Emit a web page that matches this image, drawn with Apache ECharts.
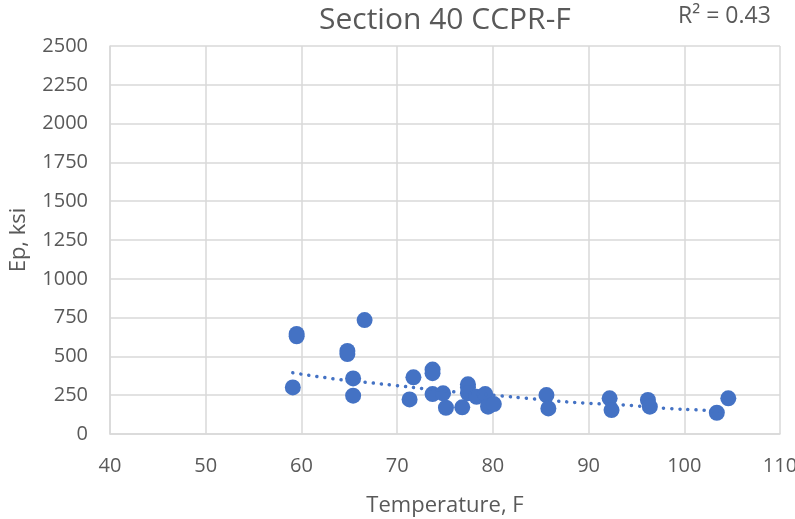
<!DOCTYPE html>
<html>
  <head>
    <meta charset="UTF-8">
    <script src="https://cdn.jsdelivr.net/npm/echarts@6/dist/echarts.min.js"></script>
    <title>Section 40 CCPR-F</title>
  </head>
  <body style="margin:0;">
    <div id="main" style="width: 795px;height:519px;"></div>
    <script type="text/javascript">
      // values
      var temps = [59.1, 59.5, 59.5, 64.8, 64.8, 65.4, 65.4, 66.6, 71.3, 71.7,
                   73.7, 73.7, 73.7, 74.8, 75.1, 76.8, 77.4, 77.4, 77.4, 78.3,
                   79.2, 79.5, 80.1, 85.6, 85.8, 92.2, 92.4, 96.2, 96.4, 103.4, 104.6];
      var ep = [300, 645, 630, 535, 515, 358, 247, 734, 223, 365,
                415, 392, 257, 262, 169, 172, 320, 300, 262, 240,
                257, 176, 193, 251, 165, 230, 154, 219, 176, 137, 230];
      // dotted trendline, points
      var trendT = [59.1, 63.6, 67.2, 69.8, 72.5, 75.9, 80.4, 84.1, 86.7, 90.2, 93.7, 98.2, 101.8, 104.5];
      var trendEp = [394, 354, 330, 313, 294, 272, 248, 227, 212, 197, 187, 165, 154, 144];
      var xTicks = [40, 110, 10];
      var yTicks = [0, 2500, 250];
      var r2Text = 'R\u00b2 = 0.43';

      var points = temps.map(function (t, i) { return [t, ep[i]]; });
      var trend = trendT.map(function (t, i) { return [t, trendEp[i]]; });

      var font = '"Open Sans", sans-serif';
      var grey = '#595959';
      var gridLine = { show: true, lineStyle: { color: '#d9d9d9', width: 1.5 } };

      var myChart = echarts.init(document.getElementById('main'));
      var option = {
        animation: false,
        title: {
          text: 'Section 40 CCPR-F',
          left: 314, top: 0,
          textStyle: { fontFamily: font, fontSize: 30, fontWeight: 'normal', color: grey }
        },
        graphic: [{
          type: 'text', left: 678, top: 5,
          style: { text: r2Text, font: '23px ' + font, fill: grey }
        }],
        grid: { left: 110, right: 15, top: 46, bottom: 85, outerBoundsMode: 'none' },
        xAxis: {
          type: 'value', min: xTicks[0], max: xTicks[1], interval: xTicks[2],
          name: 'Temperature, F', nameLocation: 'middle', nameGap: 61,
          nameTextStyle: { fontFamily: font, fontSize: 22, color: grey },
          axisLine: { show: true, lineStyle: { color: '#d9d9d9', width: 1.5 } },
          axisTick: { show: false },
          axisLabel: { fontFamily: font, fontSize: 20, color: grey, margin: 22 },
          splitLine: gridLine
        },
        yAxis: {
          type: 'value', min: yTicks[0], max: yTicks[1], interval: yTicks[2],
          name: 'Ep, ksi', nameLocation: 'middle', nameGap: 80,
          nameTextStyle: { fontFamily: font, fontSize: 22, color: grey },
          axisLine: { show: true, lineStyle: { color: '#d9d9d9', width: 1.5 } },
          axisTick: { show: false },
          axisLabel: { fontFamily: font, fontSize: 20, color: grey, margin: 22,
                       formatter: function (v) { return String(v); } },
          splitLine: gridLine
        },
        series: [{
          type: 'scatter',
          data: points,
          symbol: 'circle',
          symbolSize: 16,
          itemStyle: { color: '#4472c4', opacity: 1 },
          z: 3
        }, {
          type: 'line',
          data: trend,
          showSymbol: false,
          smooth: true,
          lineStyle: { color: '#4472c4', width: 3.5, type: [0.1, 8], cap: 'round' },
          z: 4
        }]
      };
      myChart.setOption(option);
    </script>
  </body>
</html>
